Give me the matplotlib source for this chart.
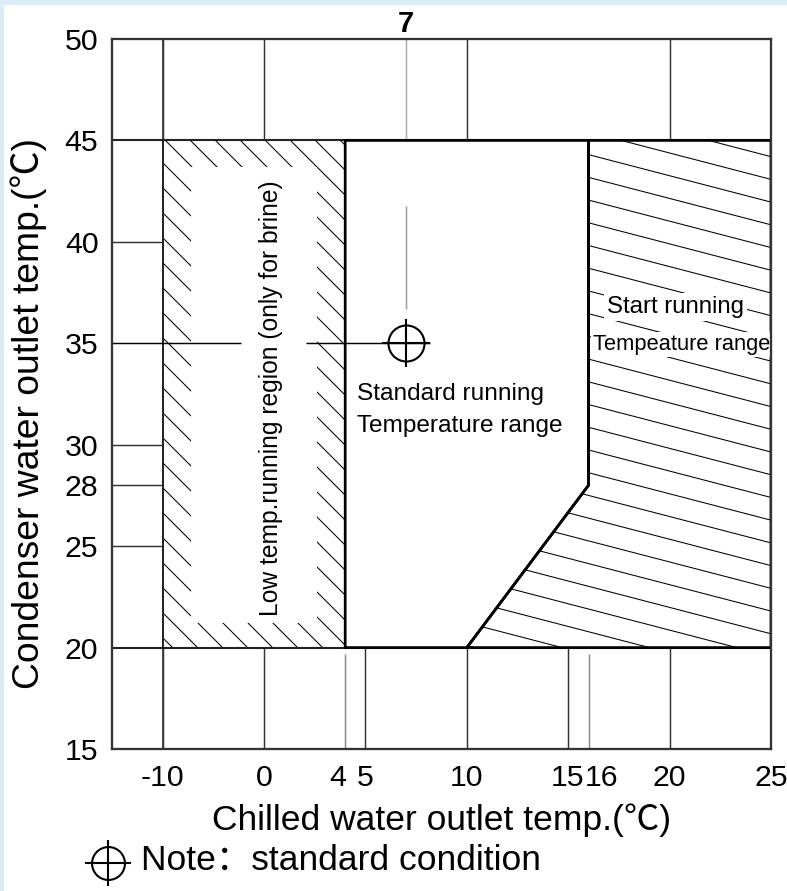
import numpy as np
import matplotlib.pyplot as plt
from matplotlib.patches import Polygon, PathPatch, Rectangle
from matplotlib.path import Path
from matplotlib.lines import Line2D
from matplotlib.transforms import ScaledTranslation

plt.rcParams['font.family'] = ['Liberation Sans', 'Noto Sans CJK SC']
plt.rcParams['hatch.linewidth'] = 0.5
plt.rcParams['hatch.color'] = 'black'

# axis ticks
x_ticks = [-10, 0, 4, 5, 10, 15, 16, 20, 25]
y_ticks = [15, 20, 25, 28, 30, 35, 40, 45, 50]

# grid segments in the outer bands
top_band_x = [-10, 0, 10, 20]
bottom_band_x = [-10, 0, 5, 10, 15, 20]
bottom_band_short_x = [4, 16]
left_band_y = [25, 28, 30, 40]

# regions
low_x = [-10, 4]
low_y = [20, 45]
standard_x = [4, 4, 16, 16, 10]
standard_y = [20, 45, 45, 28, 20]
start_x = [16, 25, 25, 10, 16]
start_y = [45, 45, 20, 20, 28]
std_point = (7, 35)


# x axis is compressed below 0
def fwd(x):
    x = np.asarray(x, dtype=float)
    return np.where(x < 0, x / 2.0, x)


def inv(x):
    x = np.asarray(x, dtype=float)
    return np.where(x < 0, x * 2.0, x)


dpi = 150
fig = plt.figure(figsize=(787 / dpi, 891 / dpi), dpi=dpi, facecolor='#daedf4')
fig.add_artist(Rectangle((4 / 787, 0), 1, 886 / 891, transform=fig.transFigure,
                         facecolor='white', edgecolor='none', zorder=-10))
ax = fig.add_axes([112 / 787, 1 - 749 / 891, 659 / 787, 710 / 891])
ax.set_xscale('function', functions=(fwd, inv))
ax.set_xlim(-15, 25)
ax.set_ylim(15, 50)

dark = '#333333'
gray = '#888888'

# band grid lines
ax.vlines(top_band_x, 45, 50, colors=dark, lw=0.7)
ax.vlines(std_point[0], 45, 50, colors='#aaaaaa', lw=0.7)
ax.vlines(bottom_band_x, 15, 20, colors=dark, lw=0.7)
ax.vlines(bottom_band_short_x, 15, 19.7, colors=gray, lw=0.7)
ax.hlines(left_band_y, -15, -10, colors=dark, lw=0.7)
ax.vlines(-10, 15, 50, colors=dark, lw=0.8)
ax.hlines([20, 45], -15, 25, colors='#222222', lw=1.0)

# low temp region: hatched band along the border
x0, x1 = low_x
y0, y1 = low_y
ix0, ix1 = -7.25, 2.6
iy0, iy1 = 21.2, 43.7
outer = [(x0, y0), (x1, y0), (x1, y1), (x0, y1), (x0, y0)]
inner = [(ix0, iy0), (ix0, iy1), (ix1, iy1), (ix1, iy0), (ix0, iy0)]
codes = [Path.MOVETO] + [Path.LINETO] * 3 + [Path.CLOSEPOLY]
ring = Path(outer + inner, codes + codes)
ax.add_patch(PathPatch(ring, facecolor='white', edgecolor='black', lw=0, hatch='\\\\'))
ax.plot([x0, x0, x1, x1], [y0, y1, y1, y0], color='#222222', lw=0.9)

# standard region
std_poly = Polygon(list(zip(standard_x, standard_y)), closed=True,
                   facecolor='white', edgecolor='black', lw=1.3, zorder=3)
ax.add_patch(std_poly)

# start running region with shallow hatching
start_poly = Polygon(list(zip(start_x, start_y)), closed=True,
                     facecolor='white', edgecolor='none', zorder=2)
ax.add_patch(start_poly)
hx = np.array([9.0, 26.0])
for c in np.arange(48.1, 18.0, -1.12):
    ln, = ax.plot(hx, c - 0.26 * (hx - 10), color='black', lw=0.5, zorder=2.5)
    ln.set_clip_path(start_poly)
ax.add_patch(Polygon(list(zip(start_x, start_y)), closed=True,
                     facecolor='none', edgecolor='black', lw=1.3, zorder=4))

# standard condition marker and guide lines
ax.hlines(35, -15, -2.27, colors='black', lw=0.7, zorder=5)
ax.hlines(35, 2.07, 8.2, colors='black', lw=0.7, zorder=5)
ax.vlines(7, 36.7, 41.75, colors='#999999', lw=0.7, zorder=5)
ax.plot(*std_point, marker='o', ms=17.3, mfc='none', mec='black', mew=1.0, zorder=6)
ax.plot(*std_point, marker='+', ms=23, mec='black', mew=1.0, zorder=6)

# region labels
ax.text(0.35, 32.3, 'Low temp.running region (only for brine)', rotation=90,
        ha='center', va='center', fontsize=11.8, zorder=7)
ax.text(4.6, 32.5, 'Standard running', ha='left', va='center', fontsize=11.7, zorder=7)
ax.text(4.6, 30.9, 'Temperature range', ha='left', va='center', fontsize=11.7, zorder=7)
ax.text(20.3, 36.77, 'Start running', ha='center', va='center', fontsize=11.5, zorder=7,
        bbox=dict(facecolor='white', edgecolor='none', pad=1.5))
ax.text(20.6, 34.95, 'Tempeature range', ha='center', va='center', fontsize=10.5, zorder=7,
        bbox=dict(facecolor='white', edgecolor='none', pad=1.0))
ax.annotate('7', xy=(7, 50), xytext=(0, 3.4), textcoords='offset points',
            ha='center', va='baseline', fontsize=14, fontweight='bold')

# axes styling
ax.set_xticks(x_ticks)
ax.set_xticklabels([str(v) for v in x_ticks])
ax.set_yticks(y_ticks)
ax.set_yticklabels([str(v) for v in y_ticks])
ax.minorticks_off()
ax.tick_params(axis='x', length=0, pad=7.0, labelsize=14.5)
ax.tick_params(axis='y', length=0, pad=6.5, labelsize=14.5)
for s in ax.spines.values():
    s.set_linewidth(1.1)
    s.set_color('#333333')
    s.set_zorder(8)

# nudge crowded tick labels apart (points)
label_shift = {4: -3.4, 15: -0.5, 16: 6.3}
for val, lab in zip(x_ticks, ax.get_xticklabels()):
    if val in label_shift:
        lab.set_transform(lab.get_transform() +
                          ScaledTranslation(label_shift[val] / 72, 0, fig.dpi_scale_trans))

fig.text(441.5 / 787, 1 - 830 / 891, 'Chilled water outlet temp.(℃)',
         ha='center', va='baseline', fontsize=17)
fig.text(29 / 787, 1 - 414 / 891, 'Condenser water outlet temp.(℃)',
         rotation=90, ha='center', va='center', fontsize=17.9)

# note with symbol
sym = (108 / 787, 1 - 863 / 891)
fig.add_artist(Line2D([sym[0]], [sym[1]], marker='o', ms=15.8, mfc='none',
                      mec='black', mew=1.0, transform=fig.transFigure))
fig.add_artist(Line2D([sym[0]], [sym[1]], marker='+', ms=22, mec='black',
                      mew=1.0, transform=fig.transFigure))
fig.text(141 / 787, 1 - 870 / 891, 'Note：standard condition',
         ha='left', va='baseline', fontsize=17)

fig.savefig('out.png', dpi=dpi)
